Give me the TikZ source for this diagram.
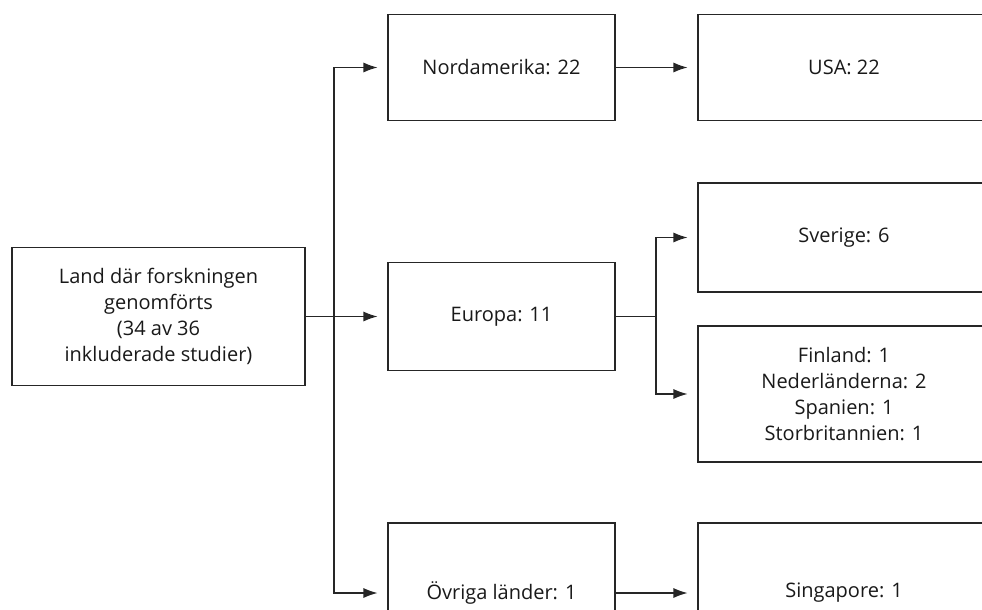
\documentclass[tikz,border=0pt]{standalone}
\usepackage{fontspec}
\setmainfont{Open Sans}
\usetikzlibrary{arrows.meta}
\begin{document}
\begin{tikzpicture}[x=0.75pt,y=-0.75pt,
  box/.style={draw=black!85, line width=0.8pt, rectangle, inner sep=0pt, align=center,
    font=\fontsize{15}{19.5}\selectfont, text=black!90},
  arr/.style={draw=black!85, line width=0.8pt, -{Latex[length=10.5pt,width=7.5pt]}, shorten >=7.5pt},
  ln/.style={draw=black!85, line width=0.8pt}]
\useasboundingbox (0,0) rectangle (982,610);
\clip (0,0) rectangle (982,610);
\node[box, minimum width=293*0.75pt, minimum height=138*0.75pt] (src) at (158.5,316.5)
  {Land där forskningen\\genomförts\\(34 av 36\\inkluderade studier)};
\node[box, minimum width=227*0.75pt, minimum height=106*0.75pt] (na) at (501.5,67.5) {Nordamerika: 22};
\node[box, minimum width=227*0.75pt, minimum height=108*0.75pt] (eu) at (501.5,316.5) {Europa: 11};
\node[box, minimum width=227*0.75pt, minimum height=140*0.75pt] (ov) at (501.5,593) {Övriga länder: 1};
\node[box, minimum width=292*0.75pt, minimum height=106*0.75pt] (usa) at (844,67.5) {USA: 22};
\node[box, minimum width=292*0.75pt, minimum height=109*0.75pt] (sv) at (844,237.5) {Sverige: 6};
\node[box, minimum width=292*0.75pt, minimum height=136*0.75pt] (fi) at (844,394)
  {Finland: 1\\Nederländerna: 2\\Spanien: 1\\Storbritannien: 1};
\node[box, minimum width=292*0.75pt, minimum height=140*0.75pt] (sg) at (844,593) {Singapore: 1};
\coordinate (j) at (334,316.5);
\coordinate (k) at (656,316.5);
\draw[arr] (src.east) -- (eu.west);
\draw[arr] (src.east -| j) |- (na.west);
\draw[arr] (src.east -| j) |- (ov.west);
\draw[arr] (na.east) -- (usa.west);
\draw[arr] (ov.east) -- (sg.west);
\draw[ln] (eu.east) -- (eu.east -| k);
\draw[arr] (eu.east -| k) |- (sv.west);
\draw[arr] (eu.east -| k) |- (fi.west);
\end{tikzpicture}
\end{document}
